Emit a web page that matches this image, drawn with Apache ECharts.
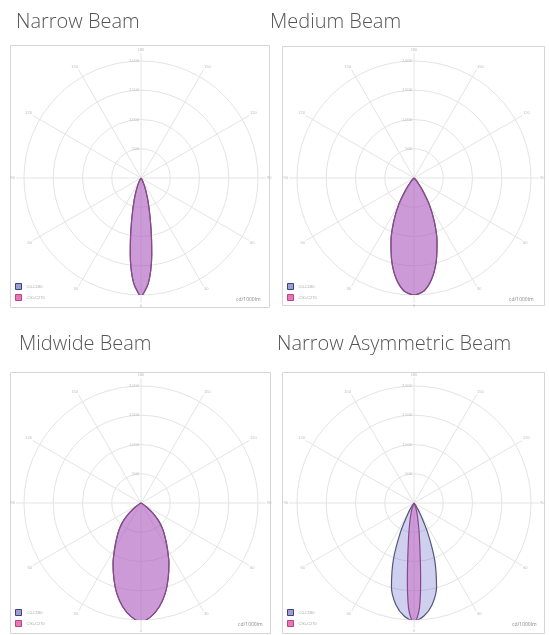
<!DOCTYPE html>
<html><head><meta charset="utf-8">
<script src="https://cdn.jsdelivr.net/npm/echarts@6/dist/echarts.min.js"></script>
<style>html,body{margin:0;padding:0;background:#fff}#c{width:549px;height:635px}</style>
</head><body><div id="c"></div>
<script>
// ---- data ----
const titles = ['Narrow Beam', 'Medium Beam', 'Midwide Beam', 'Narrow Asymmetric Beam'];
const seriesNames = ['C0-C180', 'C90-C270'];
const angleTicks = [-180, -150, -120, -90, -60, -30, 0, 30, 60, 90, 120, 150, 180];
const ringTicks = [0, 500, 1000, 1500, 2000];
const unitLabel = 'cd/1000lm';

const narrowAngles = [-40,-30,-25,-22,-20,-18,-16,-14,-12,-10,-8,-6,-4,-2,0,2,4,6,8,10,12,14,16,18,20,22,25,30,40];
const narrowValues = [0,40,110,190,260,350,460,600,790,1030,1320,1590,1800,1930,2030,1930,1800,1590,1320,1030,790,600,460,350,260,190,110,40,0];

const mediumAngles = [-50,-45,-40,-35,-30,-25,-20,-15,-10,-5,0,5,10,15,20,25,30,35,40,45,50];
const mediumValues = [0,30,100,250,520,820,1150,1470,1750,1940,2000,1940,1750,1470,1150,820,520,250,100,30,0];

const midwideAngles = [-65,-60,-55,-50,-45,-40,-35,-30,-25,-20,-15,-10,-5,0,5,10,15,20,25,30,35,40,45,50,55,60,65];
const midwideValues = [0,30,110,250,420,570,720,900,1130,1360,1600,1800,1950,2030,1950,1800,1600,1360,1130,900,720,570,420,250,110,30,0];

const asymC0Angles = [-40,-35,-30,-25,-20,-15,-10,-5,0,5,10,15,20,25,30,35,40];
const asymC0Values = [0,50,200,540,1030,1490,1770,1940,2020,1940,1770,1490,1030,540,200,50,0];
const asymC90Angles = [-25,-20,-15,-12,-10,-8,-7,-6,-5,-4,-3,-2,-1,0,1,2,3,4,5,6,7,8,10,12,15,20,25];
const asymC90Values = [0,90,220,350,500,700,850,1050,1300,1570,1790,1920,2000,2020,2000,1920,1790,1570,1300,1050,850,700,500,350,220,90,0];

const beams = [
  [[narrowAngles, narrowValues], [narrowAngles, narrowValues]],
  [[mediumAngles, mediumValues], [mediumAngles, mediumValues]],
  [[midwideAngles, midwideValues], [midwideAngles, midwideValues]],
  [[asymC0Angles, asymC0Values], [asymC90Angles, asymC90Values]]
];

// ---- layout ----
const panels = [
  {cx:141, cy:178, box:[10,45,259,262], tl:[16,12],  lg:[15,283], un:[236,297]},
  {cx:414, cy:178, box:[282,46,262,259], tl:[270,12], lg:[287,283], un:[509,297]},
  {cx:141, cy:503, box:[10,372,260,261], tl:[19,334], lg:[15,609], un:[238,622]},
  {cx:414, cy:503, box:[282,372,262,261], tl:[277,334], lg:[287,609], un:[512,622]}
];
const gridColor = '#e4e4e4';
const fillColors = ['rgba(110,110,210,0.33)', 'rgba(200,80,180,0.42)'];
const lineColors = ['#55557a', '#8a4a88'];

const option = {animation:false, title:[], polar:[], angleAxis:[], radiusAxis:[], series:[], legend:[], graphic:[]};
panels.forEach((p, i) => {
  const gi = option.polar.length;
  option.graphic.push({type:'rect', shape:{x:p.box[0]+0.5, y:p.box[1]+0.5, width:p.box[2], height:p.box[3]},
    style:{fill:'#fff', stroke:'#d6d6d6', lineWidth:1}, z:-10, silent:true});
  option.graphic.push({type:'text', left:p.un[0], top:p.un[1], style:{text:unitLabel, fontSize:5, fill:'#888', fontFamily:'Open Sans'}, silent:true});
  option.title.push({text:titles[i], left:p.tl[0], top:p.tl[1], padding:0,
    textStyle:{fontFamily:'Open Sans', fontWeight:300, fontSize:20, color:'#555'}});
  // spokes
  option.polar.push({center:[p.cx, p.cy], radius:125});
  option.angleAxis.push({polarIndex:gi, type:'value', min:angleTicks[0], max:angleTicks[angleTicks.length-1], interval:30, startAngle:90,
    axisLine:{show:false}, axisTick:{show:false},
    splitLine:{show:true, lineStyle:{color:gridColor, width:1}},
    axisLabel:{show:true, fontSize:4, color:'#bbb', margin:1, formatter:v => String(Math.abs(v))}});
  option.radiusAxis.push({polarIndex:gi, type:'value', min:0, max:1, axisLine:{show:false}, axisTick:{show:false}, axisLabel:{show:false}, splitLine:{show:false}});
  // rings
  option.polar.push({center:[p.cx, p.cy], radius:117});
  option.angleAxis.push({polarIndex:gi+1, type:'value', min:-180, max:180, startAngle:90, interval:30,
    axisLine:{show:false}, axisTick:{show:false}, axisLabel:{show:false}, splitLine:{show:false}});
  option.radiusAxis.push({polarIndex:gi+1, type:'value', min:ringTicks[0], max:ringTicks[ringTicks.length-1], interval:500,
    axisLine:{show:false}, axisTick:{show:false},
    splitLine:{show:true, lineStyle:{color:gridColor, width:1}},
    axisLabel:{show:true, fontSize:4, color:'#bbb', showMinLabel:false, margin:2}});
  beams[i].forEach((b, k) => {
    option.series.push({type:'line', name:seriesNames[k], coordinateSystem:'polar', polarIndex:gi+1,
      data:b[0].map((a, j) => [b[1][j], a]), symbol:'none', smooth:0.25,
      lineStyle:{color:lineColors[k], width:1.2}, itemStyle:{color:lineColors[k]},
      areaStyle:{color:fillColors[k], opacity:1}, z:3+k});
  });
  option.legend.push({left:p.lg[0], top:p.lg[1], orient:'vertical', padding:0, itemWidth:6, itemHeight:6, itemGap:4,
    icon:'rect', selectedMode:false, textStyle:{fontSize:4, color:'#aaa'},
    data:[{name:seriesNames[0], itemStyle:{color:'#9c9cd8', borderColor:'#40407a', borderWidth:1}},
          {name:seriesNames[1], itemStyle:{color:'#e07ab8', borderColor:'#c04080', borderWidth:1}}]});
});

const chart = echarts.init(document.getElementById('c'), null, {renderer:'canvas'});
chart.setOption(option);
</script>
</body></html>
